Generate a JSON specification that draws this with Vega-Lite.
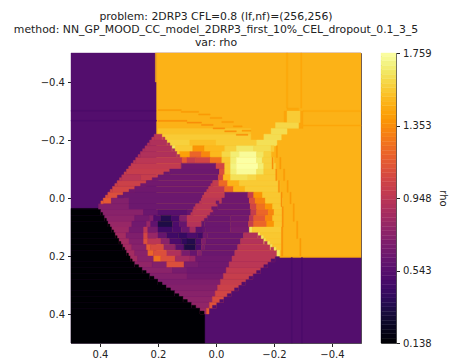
{"$schema":"https://vega.github.io/schema/vega-lite/v6.json","padding":{"left":13,"top":10,"right":2,"bottom":5},"spacing":20,"bounds":"flush","config":{"view":{"stroke":"#555"},"font":"DejaVu Sans","axis":{"labelFont":"DejaVu Sans","labelFontSize":10,"labelColor":"#222","tickColor":"#222","domainColor":"#555","tickSize":3.5,"labelPadding":3,"grid":false},"title":{"font":"DejaVu Sans","fontSize":10.85,"fontWeight":"normal","color":"#222"}},"hconcat":[{"width":290,"height":290,"title":{"text":["problem: 2DRP3 CFL=0.8 (lf,nf)=(256,256)","method: NN_GP_MOOD_CC_model_2DRP3_first_10%_CEL_dropout_0.1_3_5","var: rho"],"anchor":"middle","lineHeight":12.8,"offset":5},"data":{"values":[
{"x1":0.5,"x2":-0.5,"y1":-0.5,"y2":0.5,"v":0.53},
{"x1":0.205,"x2":-0.5,"y1":-0.5,"y2":0.2,"v":1.48},
{"x1":0.209,"x2":0.205,"y1":-0.5,"y2":-0.4,"v":1.48},
{"x1":-0.22,"x2":-0.5,"y1":0.2,"y2":0.205,"v":1.46},
{"x1":0.5,"x2":0.406,"y1":0.036,"y2":0.04,"v":0.138},
{"x1":0.5,"x2":0.039,"y1":0.4,"y2":0.5,"v":0.138},
{"x1":-0.245,"x2":-0.285,"y1":-0.31,"y2":-0.3,"v":1.44},
{"x1":-0.235,"x2":-0.3,"y1":-0.3,"y2":-0.24,"v":1.43},
{"x1":-0.245,"x2":-0.29,"y1":-0.3,"y2":-0.26,"v":1.56},
{"x1":-0.205,"x2":-0.285,"y1":-0.26,"y2":-0.24,"v":1.6},
{"x1":0.2,"x2":-0.12,"y1":-0.24,"y2":-0.22,"v":1.53},
{"x1":-0.19,"x2":-0.245,"y1":-0.24,"y2":-0.22,"v":1.62},
{"x1":0.2135,"x2":0.185,"y1":-0.22,"y2":-0.2,"v":0.95},
{"x1":0.185,"x2":-0.12,"y1":-0.22,"y2":-0.2,"v":1.56},
{"x1":-0.165,"x2":-0.225,"y1":-0.22,"y2":-0.2,"v":1.62},
{"x1":0.229,"x2":0.168,"y1":-0.2,"y2":-0.18,"v":0.9},
{"x1":0.168,"x2":0.09,"y1":-0.2,"y2":-0.18,"v":1.58},
{"x1":0.09,"x2":0,"y1":-0.2,"y2":-0.18,"v":1.52},
{"x1":0,"x2":-0.14,"y1":-0.2,"y2":-0.18,"v":1.56},
{"x1":-0.14,"x2":-0.21,"y1":-0.2,"y2":-0.18,"v":1.63},
{"x1":0.245,"x2":0.151,"y1":-0.18,"y2":-0.16,"v":0.9},
{"x1":0.151,"x2":0.14,"y1":-0.18,"y2":-0.16,"v":1.65},
{"x1":0.14,"x2":0.08,"y1":-0.18,"y2":-0.16,"v":1.56},
{"x1":0.08,"x2":0.04,"y1":-0.18,"y2":-0.16,"v":1.38},
{"x1":0.04,"x2":-0.03,"y1":-0.18,"y2":-0.16,"v":1.5},
{"x1":-0.03,"x2":-0.07,"y1":-0.18,"y2":-0.16,"v":1.58},
{"x1":-0.07,"x2":-0.13,"y1":-0.18,"y2":-0.16,"v":1.66},
{"x1":-0.13,"x2":-0.19,"y1":-0.18,"y2":-0.16,"v":1.62},
{"x1":-0.19,"x2":-0.2,"y1":-0.18,"y2":-0.16,"v":1.56},
{"x1":0.261,"x2":0.134,"y1":-0.16,"y2":-0.14,"v":0.9},
{"x1":0.134,"x2":0.125,"y1":-0.16,"y2":-0.14,"v":1.55},
{"x1":0.125,"x2":0.09,"y1":-0.16,"y2":-0.14,"v":1.42},
{"x1":0.09,"x2":0.05,"y1":-0.16,"y2":-0.14,"v":1.2},
{"x1":0.05,"x2":0.02,"y1":-0.16,"y2":-0.14,"v":1.33},
{"x1":0.02,"x2":-0.02,"y1":-0.16,"y2":-0.14,"v":1.5},
{"x1":-0.02,"x2":-0.05,"y1":-0.16,"y2":-0.14,"v":1.6},
{"x1":-0.05,"x2":-0.08,"y1":-0.16,"y2":-0.14,"v":1.68},
{"x1":-0.08,"x2":-0.14,"y1":-0.16,"y2":-0.14,"v":1.74},
{"x1":-0.14,"x2":-0.165,"y1":-0.16,"y2":-0.14,"v":1.65},
{"x1":-0.165,"x2":-0.19,"y1":-0.16,"y2":-0.14,"v":1.58},
{"x1":0.277,"x2":0.117,"y1":-0.14,"y2":-0.12,"v":0.95},
{"x1":0.117,"x2":0.1,"y1":-0.14,"y2":-0.12,"v":1.15},
{"x1":0.1,"x2":0.07,"y1":-0.14,"y2":-0.12,"v":1.0},
{"x1":0.07,"x2":0.02,"y1":-0.14,"y2":-0.12,"v":1.05},
{"x1":0.02,"x2":-0.02,"y1":-0.14,"y2":-0.12,"v":1.25},
{"x1":-0.02,"x2":-0.05,"y1":-0.14,"y2":-0.12,"v":1.55},
{"x1":-0.05,"x2":-0.07,"y1":-0.14,"y2":-0.12,"v":1.68},
{"x1":-0.07,"x2":-0.14,"y1":-0.14,"y2":-0.12,"v":1.759},
{"x1":-0.14,"x2":-0.16,"y1":-0.14,"y2":-0.12,"v":1.68},
{"x1":-0.16,"x2":-0.2,"y1":-0.14,"y2":-0.12,"v":1.58},
{"x1":0.293,"x2":0.12,"y1":-0.12,"y2":-0.1,"v":0.98},
{"x1":0.12,"x2":0,"y1":-0.12,"y2":-0.1,"v":0.64},
{"x1":0,"x2":-0.03,"y1":-0.12,"y2":-0.1,"v":1.05},
{"x1":-0.03,"x2":-0.05,"y1":-0.12,"y2":-0.1,"v":1.55},
{"x1":-0.05,"x2":-0.07,"y1":-0.12,"y2":-0.1,"v":1.7},
{"x1":-0.07,"x2":-0.145,"y1":-0.12,"y2":-0.1,"v":1.759},
{"x1":-0.145,"x2":-0.165,"y1":-0.12,"y2":-0.1,"v":1.68},
{"x1":-0.165,"x2":-0.205,"y1":-0.12,"y2":-0.1,"v":1.58},
{"x1":0.309,"x2":0.16,"y1":-0.1,"y2":-0.08,"v":1.0},
{"x1":0.16,"x2":-0.012,"y1":-0.1,"y2":-0.08,"v":0.63},
{"x1":-0.012,"x2":-0.03,"y1":-0.1,"y2":-0.08,"v":1.1},
{"x1":-0.03,"x2":-0.05,"y1":-0.1,"y2":-0.08,"v":1.55},
{"x1":-0.05,"x2":-0.07,"y1":-0.1,"y2":-0.08,"v":1.68},
{"x1":-0.07,"x2":-0.14,"y1":-0.1,"y2":-0.08,"v":1.74},
{"x1":-0.14,"x2":-0.165,"y1":-0.1,"y2":-0.08,"v":1.65},
{"x1":-0.165,"x2":-0.21,"y1":-0.1,"y2":-0.08,"v":1.56},
{"x1":0.325,"x2":0.26,"y1":-0.08,"y2":-0.06,"v":0.95},
{"x1":0.26,"x2":0.2,"y1":-0.08,"y2":-0.06,"v":1.0},
{"x1":0.2,"x2":-0.008,"y1":-0.08,"y2":-0.06,"v":0.64},
{"x1":-0.008,"x2":-0.025,"y1":-0.08,"y2":-0.06,"v":1.05},
{"x1":-0.025,"x2":-0.05,"y1":-0.08,"y2":-0.06,"v":1.5},
{"x1":-0.05,"x2":-0.11,"y1":-0.08,"y2":-0.06,"v":1.63},
{"x1":-0.11,"x2":-0.14,"y1":-0.08,"y2":-0.06,"v":1.6},
{"x1":-0.14,"x2":-0.21,"y1":-0.08,"y2":-0.06,"v":1.56},
{"x1":0.341,"x2":0.24,"y1":-0.06,"y2":-0.04,"v":1.02},
{"x1":0.24,"x2":0.011,"y1":-0.06,"y2":-0.04,"v":0.65},
{"x1":0.011,"x2":-0.01,"y1":-0.06,"y2":-0.04,"v":0.98},
{"x1":-0.01,"x2":-0.04,"y1":-0.06,"y2":-0.04,"v":1.22},
{"x1":-0.04,"x2":-0.08,"y1":-0.06,"y2":-0.04,"v":1.48},
{"x1":-0.08,"x2":-0.22,"y1":-0.06,"y2":-0.04,"v":1.56},
{"x1":0.357,"x2":0.28,"y1":-0.04,"y2":-0.02,"v":1.05},
{"x1":0.28,"x2":0.025,"y1":-0.04,"y2":-0.02,"v":0.64},
{"x1":0.025,"x2":-0.03,"y1":-0.04,"y2":-0.02,"v":0.98},
{"x1":-0.03,"x2":-0.06,"y1":-0.04,"y2":-0.02,"v":1.22},
{"x1":-0.06,"x2":-0.1,"y1":-0.04,"y2":-0.02,"v":1.48},
{"x1":-0.1,"x2":-0.22,"y1":-0.04,"y2":-0.02,"v":1.56},
{"x1":0.373,"x2":0.32,"y1":-0.02,"y2":0,"v":1.1},
{"x1":0.32,"x2":0.04,"y1":-0.02,"y2":0,"v":0.63},
{"x1":0.04,"x2":-0.03,"y1":-0.02,"y2":0,"v":0.98},
{"x1":-0.03,"x2":-0.11,"y1":-0.02,"y2":0,"v":0.64},
{"x1":-0.11,"x2":-0.13,"y1":-0.02,"y2":0,"v":1.0},
{"x1":-0.13,"x2":-0.16,"y1":-0.02,"y2":0,"v":1.38},
{"x1":-0.16,"x2":-0.225,"y1":-0.02,"y2":0,"v":1.55},
{"x1":0.389,"x2":0.361,"y1":0,"y2":0.02,"v":1.15},
{"x1":0.361,"x2":0.3,"y1":0,"y2":0.02,"v":0.72},
{"x1":0.3,"x2":0.05,"y1":0,"y2":0.02,"v":0.63},
{"x1":0.05,"x2":-0.02,"y1":0,"y2":0.02,"v":0.95},
{"x1":-0.02,"x2":-0.115,"y1":0,"y2":0.02,"v":0.64},
{"x1":-0.115,"x2":-0.135,"y1":0,"y2":0.02,"v":1.1},
{"x1":-0.135,"x2":-0.17,"y1":0,"y2":0.02,"v":1.32},
{"x1":-0.17,"x2":-0.23,"y1":0,"y2":0.02,"v":1.55},
{"x1":0.405,"x2":0.3,"y1":0.02,"y2":0.04,"v":0.72},
{"x1":0.3,"x2":0.07,"y1":0.02,"y2":0.04,"v":0.63},
{"x1":0.07,"x2":-0.005,"y1":0.02,"y2":0.04,"v":0.95},
{"x1":-0.005,"x2":-0.118,"y1":0.02,"y2":0.04,"v":0.64},
{"x1":-0.118,"x2":-0.14,"y1":0.02,"y2":0.04,"v":1.05},
{"x1":-0.14,"x2":-0.17,"y1":0.02,"y2":0.04,"v":1.25},
{"x1":-0.17,"x2":-0.195,"y1":0.02,"y2":0.04,"v":1.38},
{"x1":-0.195,"x2":-0.23,"y1":0.02,"y2":0.04,"v":1.55},
{"x1":0.5,"x2":0.397,"y1":0.04,"y2":0.06,"v":0.138},
{"x1":0.397,"x2":0.25,"y1":0.04,"y2":0.06,"v":0.74},
{"x1":0.25,"x2":0.2,"y1":0.04,"y2":0.06,"v":0.62},
{"x1":0.2,"x2":0.1,"y1":0.04,"y2":0.06,"v":0.55},
{"x1":0.1,"x2":0.08,"y1":0.04,"y2":0.06,"v":0.6},
{"x1":0.08,"x2":0.01,"y1":0.04,"y2":0.06,"v":0.95},
{"x1":0.01,"x2":-0.12,"y1":0.04,"y2":0.06,"v":0.64},
{"x1":-0.12,"x2":-0.14,"y1":0.04,"y2":0.06,"v":1.0},
{"x1":-0.14,"x2":-0.18,"y1":0.04,"y2":0.06,"v":1.2},
{"x1":-0.18,"x2":-0.2,"y1":0.04,"y2":0.06,"v":1.33},
{"x1":-0.2,"x2":-0.23,"y1":0.04,"y2":0.06,"v":1.54},
{"x1":0.5,"x2":0.384,"y1":0.06,"y2":0.08,"v":0.138},
{"x1":0.384,"x2":0.28,"y1":0.06,"y2":0.08,"v":0.76},
{"x1":0.28,"x2":0.23,"y1":0.06,"y2":0.08,"v":0.66},
{"x1":0.23,"x2":0.215,"y1":0.06,"y2":0.08,"v":0.72},
{"x1":0.215,"x2":0.19,"y1":0.06,"y2":0.08,"v":0.52},
{"x1":0.19,"x2":0.155,"y1":0.06,"y2":0.08,"v":0.36},
{"x1":0.155,"x2":0.125,"y1":0.06,"y2":0.08,"v":0.48},
{"x1":0.125,"x2":0.1,"y1":0.06,"y2":0.08,"v":0.72},
{"x1":0.1,"x2":0.03,"y1":0.06,"y2":0.08,"v":0.95},
{"x1":0.03,"x2":-0.05,"y1":0.06,"y2":0.08,"v":0.62},
{"x1":-0.05,"x2":-0.115,"y1":0.06,"y2":0.08,"v":0.65},
{"x1":-0.115,"x2":-0.13,"y1":0.06,"y2":0.08,"v":0.95},
{"x1":-0.13,"x2":-0.17,"y1":0.06,"y2":0.08,"v":1.15},
{"x1":-0.17,"x2":-0.195,"y1":0.06,"y2":0.08,"v":1.33},
{"x1":-0.195,"x2":-0.23,"y1":0.06,"y2":0.08,"v":1.54},
{"x1":0.5,"x2":0.372,"y1":0.08,"y2":0.1,"v":0.138},
{"x1":0.372,"x2":0.29,"y1":0.08,"y2":0.1,"v":0.8},
{"x1":0.29,"x2":0.24,"y1":0.08,"y2":0.1,"v":0.65},
{"x1":0.24,"x2":0.225,"y1":0.08,"y2":0.1,"v":0.8},
{"x1":0.225,"x2":0.2,"y1":0.08,"y2":0.1,"v":0.58},
{"x1":0.2,"x2":0.15,"y1":0.08,"y2":0.1,"v":0.33},
{"x1":0.15,"x2":0.125,"y1":0.08,"y2":0.1,"v":0.5},
{"x1":0.125,"x2":0.1,"y1":0.08,"y2":0.1,"v":0.6},
{"x1":0.1,"x2":0.05,"y1":0.08,"y2":0.1,"v":0.92},
{"x1":0.05,"x2":0.04,"y1":0.08,"y2":0.1,"v":0.6},
{"x1":0.04,"x2":-0.05,"y1":0.08,"y2":0.1,"v":0.62},
{"x1":-0.05,"x2":-0.112,"y1":0.08,"y2":0.1,"v":0.66},
{"x1":-0.112,"x2":-0.13,"y1":0.08,"y2":0.1,"v":1.0},
{"x1":-0.13,"x2":-0.175,"y1":0.08,"y2":0.1,"v":1.2},
{"x1":-0.175,"x2":-0.2,"y1":0.08,"y2":0.1,"v":1.38},
{"x1":-0.2,"x2":-0.23,"y1":0.08,"y2":0.1,"v":1.54},
{"x1":0.5,"x2":0.359,"y1":0.1,"y2":0.12,"v":0.138},
{"x1":0.359,"x2":0.3,"y1":0.1,"y2":0.12,"v":0.82},
{"x1":0.3,"x2":0.25,"y1":0.1,"y2":0.12,"v":0.66},
{"x1":0.25,"x2":0.235,"y1":0.1,"y2":0.12,"v":0.95},
{"x1":0.235,"x2":0.2,"y1":0.1,"y2":0.12,"v":0.68},
{"x1":0.2,"x2":0.15,"y1":0.1,"y2":0.12,"v":0.45},
{"x1":0.15,"x2":0.12,"y1":0.1,"y2":0.12,"v":0.5},
{"x1":0.12,"x2":0.09,"y1":0.1,"y2":0.12,"v":0.62},
{"x1":0.09,"x2":0.07,"y1":0.1,"y2":0.12,"v":0.85},
{"x1":0.07,"x2":0.045,"y1":0.1,"y2":0.12,"v":0.56},
{"x1":0.045,"x2":0.035,"y1":0.1,"y2":0.12,"v":0.6},
{"x1":0.035,"x2":-0.05,"y1":0.1,"y2":0.12,"v":0.62},
{"x1":-0.05,"x2":-0.115,"y1":0.1,"y2":0.12,"v":0.68},
{"x1":-0.115,"x2":-0.125,"y1":0.1,"y2":0.12,"v":1.65},
{"x1":-0.125,"x2":-0.225,"y1":0.1,"y2":0.12,"v":1.56},
{"x1":0.5,"x2":0.347,"y1":0.12,"y2":0.14,"v":0.138},
{"x1":0.347,"x2":0.31,"y1":0.12,"y2":0.14,"v":0.85},
{"x1":0.31,"x2":0.25,"y1":0.12,"y2":0.14,"v":0.7},
{"x1":0.25,"x2":0.235,"y1":0.12,"y2":0.14,"v":1.05},
{"x1":0.235,"x2":0.2,"y1":0.12,"y2":0.14,"v":0.8},
{"x1":0.2,"x2":0.17,"y1":0.12,"y2":0.14,"v":0.6},
{"x1":0.17,"x2":0.13,"y1":0.12,"y2":0.14,"v":0.45},
{"x1":0.13,"x2":0.1,"y1":0.12,"y2":0.14,"v":0.42},
{"x1":0.1,"x2":0.065,"y1":0.12,"y2":0.14,"v":0.5},
{"x1":0.065,"x2":0.045,"y1":0.12,"y2":0.14,"v":0.45},
{"x1":0.045,"x2":0.03,"y1":0.12,"y2":0.14,"v":0.65},
{"x1":0.03,"x2":-0.095,"y1":0.12,"y2":0.14,"v":0.62},
{"x1":-0.095,"x2":-0.145,"y1":0.12,"y2":0.14,"v":0.9},
{"x1":-0.145,"x2":-0.152,"y1":0.12,"y2":0.14,"v":1.65},
{"x1":-0.152,"x2":-0.225,"y1":0.12,"y2":0.14,"v":1.55},
{"x1":0.5,"x2":0.334,"y1":0.14,"y2":0.16,"v":0.138},
{"x1":0.334,"x2":0.3,"y1":0.14,"y2":0.16,"v":0.85},
{"x1":0.3,"x2":0.25,"y1":0.14,"y2":0.16,"v":0.72},
{"x1":0.25,"x2":0.235,"y1":0.14,"y2":0.16,"v":1.1},
{"x1":0.235,"x2":0.19,"y1":0.14,"y2":0.16,"v":0.95},
{"x1":0.19,"x2":0.16,"y1":0.14,"y2":0.16,"v":0.75},
{"x1":0.16,"x2":0.12,"y1":0.14,"y2":0.16,"v":0.5},
{"x1":0.12,"x2":0.1,"y1":0.14,"y2":0.16,"v":0.4},
{"x1":0.1,"x2":0.07,"y1":0.14,"y2":0.16,"v":0.35},
{"x1":0.07,"x2":0.05,"y1":0.14,"y2":0.16,"v":0.5},
{"x1":0.05,"x2":0.035,"y1":0.14,"y2":0.16,"v":0.7},
{"x1":0.035,"x2":-0.085,"y1":0.14,"y2":0.16,"v":0.62},
{"x1":-0.085,"x2":-0.165,"y1":0.14,"y2":0.16,"v":0.92},
{"x1":-0.165,"x2":-0.172,"y1":0.14,"y2":0.16,"v":1.65},
{"x1":-0.172,"x2":-0.225,"y1":0.14,"y2":0.16,"v":1.55},
{"x1":0.5,"x2":0.321,"y1":0.16,"y2":0.18,"v":0.138},
{"x1":0.321,"x2":0.29,"y1":0.16,"y2":0.18,"v":0.85},
{"x1":0.29,"x2":0.24,"y1":0.16,"y2":0.18,"v":0.74},
{"x1":0.24,"x2":0.225,"y1":0.16,"y2":0.18,"v":1.15},
{"x1":0.225,"x2":0.18,"y1":0.16,"y2":0.18,"v":1.08},
{"x1":0.18,"x2":0.14,"y1":0.16,"y2":0.18,"v":0.78},
{"x1":0.14,"x2":0.11,"y1":0.16,"y2":0.18,"v":0.55},
{"x1":0.11,"x2":0.07,"y1":0.16,"y2":0.18,"v":0.33},
{"x1":0.07,"x2":0.05,"y1":0.16,"y2":0.18,"v":0.5},
{"x1":0.05,"x2":0.04,"y1":0.16,"y2":0.18,"v":0.7},
{"x1":0.04,"x2":-0.075,"y1":0.16,"y2":0.18,"v":0.62},
{"x1":-0.075,"x2":-0.187,"y1":0.16,"y2":0.18,"v":0.95},
{"x1":-0.187,"x2":-0.195,"y1":0.16,"y2":0.18,"v":1.65},
{"x1":-0.195,"x2":-0.225,"y1":0.16,"y2":0.18,"v":1.54},
{"x1":0.5,"x2":0.308,"y1":0.18,"y2":0.2,"v":0.138},
{"x1":0.308,"x2":0.28,"y1":0.18,"y2":0.2,"v":0.85},
{"x1":0.28,"x2":0.235,"y1":0.18,"y2":0.2,"v":0.74},
{"x1":0.235,"x2":0.215,"y1":0.18,"y2":0.2,"v":1.2},
{"x1":0.215,"x2":0.17,"y1":0.18,"y2":0.2,"v":1.1},
{"x1":0.17,"x2":0.12,"y1":0.18,"y2":0.2,"v":0.9},
{"x1":0.12,"x2":0.09,"y1":0.18,"y2":0.2,"v":0.68},
{"x1":0.09,"x2":0.065,"y1":0.18,"y2":0.2,"v":0.6},
{"x1":0.065,"x2":0.05,"y1":0.18,"y2":0.2,"v":0.72},
{"x1":0.05,"x2":-0.065,"y1":0.18,"y2":0.2,"v":0.62},
{"x1":-0.065,"x2":-0.21,"y1":0.18,"y2":0.2,"v":0.95},
{"x1":-0.21,"x2":-0.22,"y1":0.18,"y2":0.2,"v":1.65},
{"x1":0.5,"x2":0.295,"y1":0.2,"y2":0.22,"v":0.138},
{"x1":0.295,"x2":0.27,"y1":0.2,"y2":0.22,"v":0.85},
{"x1":0.27,"x2":0.215,"y1":0.2,"y2":0.22,"v":0.74},
{"x1":0.215,"x2":0.19,"y1":0.2,"y2":0.22,"v":1.25},
{"x1":0.19,"x2":0.14,"y1":0.2,"y2":0.22,"v":1.1},
{"x1":0.14,"x2":0.09,"y1":0.2,"y2":0.22,"v":0.85},
{"x1":0.09,"x2":0.07,"y1":0.2,"y2":0.22,"v":0.8},
{"x1":0.07,"x2":-0.055,"y1":0.2,"y2":0.22,"v":0.64},
{"x1":-0.055,"x2":-0.203,"y1":0.2,"y2":0.22,"v":0.95},
{"x1":0.5,"x2":0.28,"y1":0.22,"y2":0.24,"v":0.138},
{"x1":0.28,"x2":0.22,"y1":0.22,"y2":0.24,"v":0.78},
{"x1":0.22,"x2":0.17,"y1":0.22,"y2":0.24,"v":0.72},
{"x1":0.17,"x2":0.11,"y1":0.22,"y2":0.24,"v":1.1},
{"x1":0.11,"x2":0.06,"y1":0.22,"y2":0.24,"v":0.68},
{"x1":0.06,"x2":-0.045,"y1":0.22,"y2":0.24,"v":0.64},
{"x1":-0.045,"x2":-0.178,"y1":0.22,"y2":0.24,"v":0.95},
{"x1":0.5,"x2":0.254,"y1":0.24,"y2":0.26,"v":0.138},
{"x1":0.254,"x2":0.15,"y1":0.24,"y2":0.26,"v":0.75},
{"x1":0.15,"x2":0.1,"y1":0.24,"y2":0.26,"v":0.68},
{"x1":0.1,"x2":-0.035,"y1":0.24,"y2":0.26,"v":0.64},
{"x1":-0.035,"x2":-0.153,"y1":0.24,"y2":0.26,"v":0.98},
{"x1":0.5,"x2":0.228,"y1":0.26,"y2":0.28,"v":0.138},
{"x1":0.228,"x2":0.1,"y1":0.26,"y2":0.28,"v":0.72},
{"x1":0.1,"x2":-0.025,"y1":0.26,"y2":0.28,"v":0.66},
{"x1":-0.025,"x2":-0.127,"y1":0.26,"y2":0.28,"v":1.0},
{"x1":0.5,"x2":0.2,"y1":0.28,"y2":0.3,"v":0.138},
{"x1":0.2,"x2":-0.015,"y1":0.28,"y2":0.3,"v":0.7},
{"x1":-0.015,"x2":-0.102,"y1":0.28,"y2":0.3,"v":1.0},
{"x1":0.5,"x2":0.171,"y1":0.3,"y2":0.32,"v":0.138},
{"x1":0.171,"x2":-0.005,"y1":0.3,"y2":0.32,"v":0.72},
{"x1":-0.005,"x2":-0.077,"y1":0.3,"y2":0.32,"v":1.02},
{"x1":0.5,"x2":0.142,"y1":0.32,"y2":0.34,"v":0.138},
{"x1":0.142,"x2":0.003,"y1":0.32,"y2":0.34,"v":0.74},
{"x1":0.003,"x2":-0.052,"y1":0.32,"y2":0.34,"v":1.05},
{"x1":0.5,"x2":0.113,"y1":0.34,"y2":0.36,"v":0.138},
{"x1":0.113,"x2":0.013,"y1":0.34,"y2":0.36,"v":0.76},
{"x1":0.013,"x2":-0.026,"y1":0.34,"y2":0.36,"v":1.08},
{"x1":0.5,"x2":0.084,"y1":0.36,"y2":0.38,"v":0.138},
{"x1":0.084,"x2":0.023,"y1":0.36,"y2":0.38,"v":0.78},
{"x1":0.023,"x2":-0.001,"y1":0.36,"y2":0.38,"v":1.12},
{"x1":0.5,"x2":0.055,"y1":0.38,"y2":0.4,"v":0.138},
{"x1":0.055,"x2":0.033,"y1":0.38,"y2":0.4,"v":0.82},
{"x1":0.033,"x2":0.024,"y1":0.38,"y2":0.4,"v":1.15},
{"x1":0.2215,"x2":0.2135,"y1":-0.21,"y2":-0.2,"v":0.95},
{"x1":0.237,"x2":0.229,"y1":-0.19,"y2":-0.18,"v":0.9},
{"x1":0.253,"x2":0.245,"y1":-0.17,"y2":-0.16,"v":0.9},
{"x1":0.269,"x2":0.261,"y1":-0.15,"y2":-0.14,"v":0.9},
{"x1":0.285,"x2":0.277,"y1":-0.13,"y2":-0.12,"v":0.95},
{"x1":0.301,"x2":0.293,"y1":-0.11,"y2":-0.1,"v":0.98},
{"x1":0.317,"x2":0.309,"y1":-0.09,"y2":-0.08,"v":1.0},
{"x1":0.333,"x2":0.325,"y1":-0.07,"y2":-0.06,"v":0.95},
{"x1":0.349,"x2":0.341,"y1":-0.05,"y2":-0.04,"v":1.02},
{"x1":0.365,"x2":0.357,"y1":-0.03,"y2":-0.02,"v":1.05},
{"x1":0.381,"x2":0.373,"y1":-0.01,"y2":0,"v":1.1},
{"x1":0.397,"x2":0.389,"y1":0.01,"y2":0.02,"v":1.15},
{"x1":0.397,"x2":0.391,"y1":0.05,"y2":0.06,"v":0.138},
{"x1":0.384,"x2":0.378,"y1":0.07,"y2":0.08,"v":0.138},
{"x1":0.372,"x2":0.366,"y1":0.09,"y2":0.1,"v":0.138},
{"x1":0.359,"x2":0.353,"y1":0.11,"y2":0.12,"v":0.138},
{"x1":0.347,"x2":0.341,"y1":0.13,"y2":0.14,"v":0.138},
{"x1":0.334,"x2":0.328,"y1":0.15,"y2":0.16,"v":0.138},
{"x1":0.321,"x2":0.315,"y1":0.17,"y2":0.18,"v":0.138},
{"x1":0.308,"x2":0.302,"y1":0.19,"y2":0.2,"v":0.138},
{"x1":0.295,"x2":0.289,"y1":0.21,"y2":0.22,"v":0.138},
{"x1":0.28,"x2":0.267,"y1":0.23,"y2":0.24,"v":0.138},
{"x1":0.254,"x2":0.241,"y1":0.25,"y2":0.26,"v":0.138},
{"x1":0.228,"x2":0.214,"y1":0.27,"y2":0.28,"v":0.138},
{"x1":0.2,"x2":0.186,"y1":0.29,"y2":0.3,"v":0.138},
{"x1":0.171,"x2":0.157,"y1":0.31,"y2":0.32,"v":0.138},
{"x1":0.142,"x2":0.128,"y1":0.33,"y2":0.34,"v":0.138},
{"x1":0.113,"x2":0.099,"y1":0.35,"y2":0.36,"v":0.138},
{"x1":0.084,"x2":0.07,"y1":0.37,"y2":0.38,"v":0.138},
{"x1":0.055,"x2":0.041,"y1":0.39,"y2":0.4,"v":0.138},
{"x1":-0.203,"x2":-0.19,"y1":0.21,"y2":0.22,"v":0.53},
{"x1":-0.178,"x2":-0.165,"y1":0.23,"y2":0.24,"v":0.53},
{"x1":-0.153,"x2":-0.14,"y1":0.25,"y2":0.26,"v":0.53},
{"x1":-0.127,"x2":-0.114,"y1":0.27,"y2":0.28,"v":0.53},
{"x1":-0.102,"x2":-0.089,"y1":0.29,"y2":0.3,"v":0.53},
{"x1":-0.077,"x2":-0.064,"y1":0.31,"y2":0.32,"v":0.53},
{"x1":-0.052,"x2":-0.039,"y1":0.33,"y2":0.34,"v":0.53},
{"x1":-0.026,"x2":-0.013,"y1":0.35,"y2":0.36,"v":0.53},
{"x1":-0.001,"x2":0.012,"y1":0.37,"y2":0.38,"v":0.53},
{"x1":-0.145,"x2":-0.156,"y1":0.13,"y2":0.14,"v":0.92},
{"x1":-0.156,"x2":-0.163,"y1":0.13,"y2":0.14,"v":1.65},
{"x1":-0.167,"x2":-0.178,"y1":0.15,"y2":0.16,"v":0.92},
{"x1":-0.178,"x2":-0.185,"y1":0.15,"y2":0.16,"v":1.65},
{"x1":-0.189,"x2":-0.2,"y1":0.17,"y2":0.18,"v":0.95},
{"x1":-0.2,"x2":-0.207,"y1":0.17,"y2":0.18,"v":1.65},
{"x1":0.185,"x2":0.176,"y1":-0.21,"y2":-0.2,"v":0.95},
{"x1":0.168,"x2":0.159,"y1":-0.19,"y2":-0.18,"v":0.9},
{"x1":0.151,"x2":0.142,"y1":-0.17,"y2":-0.16,"v":0.9},
{"x1":0.134,"x2":0.125,"y1":-0.15,"y2":-0.14,"v":0.9},
{"x1":0.18,"x2":0.16,"y1":-0.09,"y2":-0.08,"v":0.63},
{"x1":0.22,"x2":0.2,"y1":-0.07,"y2":-0.06,"v":0.64},
{"x1":0.26,"x2":0.24,"y1":-0.05,"y2":-0.04,"v":0.65},
{"x1":0.3,"x2":0.28,"y1":-0.03,"y2":-0.02,"v":0.64},
{"x1":0.34,"x2":0.32,"y1":-0.01,"y2":0,"v":0.63},
{"x1":0.018,"x2":0.011,"y1":-0.05,"y2":-0.04,"v":0.98},
{"x1":0.032,"x2":0.025,"y1":-0.03,"y2":-0.02,"v":0.98},
{"x1":0.047,"x2":0.04,"y1":-0.01,"y2":0,"v":0.98},
{"x1":0.057,"x2":0.05,"y1":0.01,"y2":0.02,"v":0.95},
{"x1":0.077,"x2":0.07,"y1":0.03,"y2":0.04,"v":0.95},
{"x1":0.087,"x2":0.08,"y1":0.05,"y2":0.06,"v":0.95},
{"x1":0.0,"x2":-0.01,"y1":0.01,"y2":0.02,"v":0.64},
{"x1":0.015,"x2":-0.005,"y1":0.03,"y2":0.04,"v":0.64},
{"x1":0.02,"x2":0.01,"y1":0.05,"y2":0.06,"v":0.64},
{"x1":0.04,"x2":0.03,"y1":0.07,"y2":0.08,"v":0.62},
{"x1":0.2,"x2":0.12,"y1":-0.305,"y2":-0.301,"v":1.4},
{"x1":0.12,"x2":0.06,"y1":-0.299,"y2":-0.295,"v":1.4},
{"x1":0.06,"x2":0.02,"y1":-0.29,"y2":-0.286,"v":1.4},
{"x1":0.02,"x2":-0.02,"y1":-0.278,"y2":-0.274,"v":1.4},
{"x1":-0.02,"x2":-0.06,"y1":-0.264,"y2":-0.26,"v":1.4},
{"x1":-0.06,"x2":-0.09,"y1":-0.249,"y2":-0.245,"v":1.4},
{"x1":-0.09,"x2":-0.12,"y1":-0.234,"y2":-0.23,"v":1.4},
{"x1":0.2,"x2":0.1,"y1":-0.268,"y2":-0.264,"v":1.36},
{"x1":0.1,"x2":0.05,"y1":-0.262,"y2":-0.258,"v":1.36},
{"x1":0.05,"x2":0.01,"y1":-0.254,"y2":-0.25,"v":1.36},
{"x1":0.01,"x2":-0.03,"y1":-0.242,"y2":-0.238,"v":1.36},
{"x1":-0.03,"x2":-0.07,"y1":-0.232,"y2":-0.228,"v":1.36},
{"x1":-0.07,"x2":-0.11,"y1":-0.22,"y2":-0.216,"v":1.36},
{"x1":-0.208,"x2":-0.212,"y1":-0.18,"y2":-0.14,"v":1.4},
{"x1":-0.22,"x2":-0.224,"y1":-0.14,"y2":-0.1,"v":1.4},
{"x1":-0.233,"x2":-0.237,"y1":-0.1,"y2":-0.06,"v":1.4},
{"x1":-0.245,"x2":-0.249,"y1":-0.06,"y2":-0.02,"v":1.4},
{"x1":-0.255,"x2":-0.259,"y1":-0.02,"y2":0.02,"v":1.4},
{"x1":-0.266,"x2":-0.27,"y1":0.02,"y2":0.08,"v":1.4},
{"x1":-0.278,"x2":-0.282,"y1":0.08,"y2":0.14,"v":1.4},
{"x1":-0.289,"x2":-0.293,"y1":0.14,"y2":0.2,"v":1.4},
{"x1":-0.193,"x2":-0.197,"y1":-0.14,"y2":-0.1,"v":1.36},
{"x1":-0.206,"x2":-0.21,"y1":-0.1,"y2":-0.06,"v":1.36},
{"x1":-0.215,"x2":-0.219,"y1":-0.06,"y2":-0.02,"v":1.36},
{"x1":-0.224,"x2":-0.228,"y1":-0.02,"y2":0.03,"v":1.36},
{"x1":-0.228,"x2":-0.232,"y1":0.03,"y2":0.1,"v":1.36},
{"x1":-0.226,"x2":-0.23,"y1":0.1,"y2":0.2,"v":1.36},
{"x1":-0.243,"x2":-0.247,"y1":-0.5,"y2":-0.31,"v":1.44},
{"x1":-0.292,"x2":-0.296,"y1":-0.5,"y2":-0.31,"v":1.44},
{"x1":-0.3,"x2":-0.5,"y1":-0.302,"y2":-0.298,"v":1.44},
{"x1":-0.3,"x2":-0.5,"y1":-0.252,"y2":-0.248,"v":1.44},
{"x1":0.5,"x2":0.207,"y1":-0.302,"y2":-0.299,"v":0.5},
{"x1":0.5,"x2":0.205,"y1":-0.268,"y2":-0.265,"v":0.5},
{"x1":-0.26,"x2":-0.263,"y1":0.205,"y2":0.5,"v":0.5},
{"x1":-0.295,"x2":-0.298,"y1":0.205,"y2":0.5,"v":0.5}
]},"mark":{"type":"rect","strokeWidth":0.4},"encoding":{"x":{"field":"x1","type":"quantitative","title":null,"scale":{"domain":[0.5,-0.5],"nice":false,"zero":false},"axis":{"values":[0.4,0.2,0,-0.2,-0.4],"format":".1f"}},"x2":{"field":"x2"},"y":{"field":"y1","type":"quantitative","title":null,"scale":{"domain":[0.5,-0.5],"nice":false,"zero":false},"axis":{"values":[-0.4,-0.2,0,0.2,0.4],"format":".1f"}},"y2":{"field":"y2"},"color":{"field":"v","type":"quantitative","legend":null,"scale":{"scheme":"inferno","domain":[0.138,1.759]}},"stroke":{"field":"v","type":"quantitative","legend":null,"scale":{"scheme":"inferno","domain":[0.138,1.759]}}}},{"width":15,"height":290,"data":{"values":[
{"y1":0.138,"y2":0.165,"v":0.15},{"y1":0.165,"y2":0.19,"v":0.178},{"y1":0.19,"y2":0.215,"v":0.203},{"y1":0.215,"y2":0.24,"v":0.228},{"y1":0.24,"y2":0.265,"v":0.253},{"y1":0.265,"y2":0.29,"v":0.278},{"y1":0.29,"y2":0.315,"v":0.303},{"y1":0.315,"y2":0.34,"v":0.328},{"y1":0.34,"y2":0.365,"v":0.353},{"y1":0.365,"y2":0.39,"v":0.378},{"y1":0.39,"y2":0.415,"v":0.403},{"y1":0.415,"y2":0.44,"v":0.428},{"y1":0.44,"y2":0.465,"v":0.453},{"y1":0.465,"y2":0.49,"v":0.478},{"y1":0.49,"y2":0.515,"v":0.503},{"y1":0.515,"y2":0.54,"v":0.528},{"y1":0.54,"y2":0.565,"v":0.553},{"y1":0.565,"y2":0.59,"v":0.578},{"y1":0.59,"y2":0.615,"v":0.603},{"y1":0.615,"y2":0.64,"v":0.628},{"y1":0.64,"y2":0.665,"v":0.653},{"y1":0.665,"y2":0.69,"v":0.678},{"y1":0.69,"y2":0.715,"v":0.703},{"y1":0.715,"y2":0.74,"v":0.728},{"y1":0.74,"y2":0.765,"v":0.753},{"y1":0.765,"y2":0.79,"v":0.778},{"y1":0.79,"y2":0.815,"v":0.803},{"y1":0.815,"y2":0.84,"v":0.828},{"y1":0.84,"y2":0.865,"v":0.853},{"y1":0.865,"y2":0.89,"v":0.878},{"y1":0.89,"y2":0.915,"v":0.903},{"y1":0.915,"y2":0.94,"v":0.928},{"y1":0.94,"y2":0.965,"v":0.953},{"y1":0.965,"y2":0.99,"v":0.978},{"y1":0.99,"y2":1.015,"v":1.003},{"y1":1.015,"y2":1.04,"v":1.028},{"y1":1.04,"y2":1.065,"v":1.053},{"y1":1.065,"y2":1.09,"v":1.078},{"y1":1.09,"y2":1.115,"v":1.103},{"y1":1.115,"y2":1.14,"v":1.128},{"y1":1.14,"y2":1.165,"v":1.153},{"y1":1.165,"y2":1.19,"v":1.178},{"y1":1.19,"y2":1.215,"v":1.203},{"y1":1.215,"y2":1.24,"v":1.228},{"y1":1.24,"y2":1.265,"v":1.253},{"y1":1.265,"y2":1.29,"v":1.278},{"y1":1.29,"y2":1.315,"v":1.303},{"y1":1.315,"y2":1.34,"v":1.328},{"y1":1.34,"y2":1.365,"v":1.353},{"y1":1.365,"y2":1.39,"v":1.378},{"y1":1.39,"y2":1.415,"v":1.403},{"y1":1.415,"y2":1.44,"v":1.428},{"y1":1.44,"y2":1.465,"v":1.453},{"y1":1.465,"y2":1.49,"v":1.478},{"y1":1.49,"y2":1.515,"v":1.503},{"y1":1.515,"y2":1.54,"v":1.528},{"y1":1.54,"y2":1.565,"v":1.553},{"y1":1.565,"y2":1.59,"v":1.578},{"y1":1.59,"y2":1.615,"v":1.603},{"y1":1.615,"y2":1.64,"v":1.628},{"y1":1.64,"y2":1.665,"v":1.653},{"y1":1.665,"y2":1.69,"v":1.678},{"y1":1.69,"y2":1.715,"v":1.703},{"y1":1.715,"y2":1.74,"v":1.728},{"y1":1.74,"y2":1.759,"v":1.75}
]},"mark":{"type":"rect","strokeWidth":0.4},"encoding":{"y":{"field":"y1","type":"quantitative","title":"rho","scale":{"domain":[0.138,1.759],"nice":false,"zero":false},"axis":{"orient":"right","values":[0.138,0.543,0.948,1.353,1.759],"format":".3f","titlePadding":6,"titleFontWeight":"normal","titleFontSize":10,"titleColor":"#222","titleFont":"DejaVu Sans"}},"y2":{"field":"y2"},"color":{"field":"v","type":"quantitative","legend":null,"scale":{"scheme":"inferno","domain":[0.138,1.759]}},"stroke":{"field":"v","type":"quantitative","legend":null,"scale":{"scheme":"inferno","domain":[0.138,1.759]}}}}],"resolve":{"scale":{"color":"independent","stroke":"independent","x":"independent","y":"independent"}}}
